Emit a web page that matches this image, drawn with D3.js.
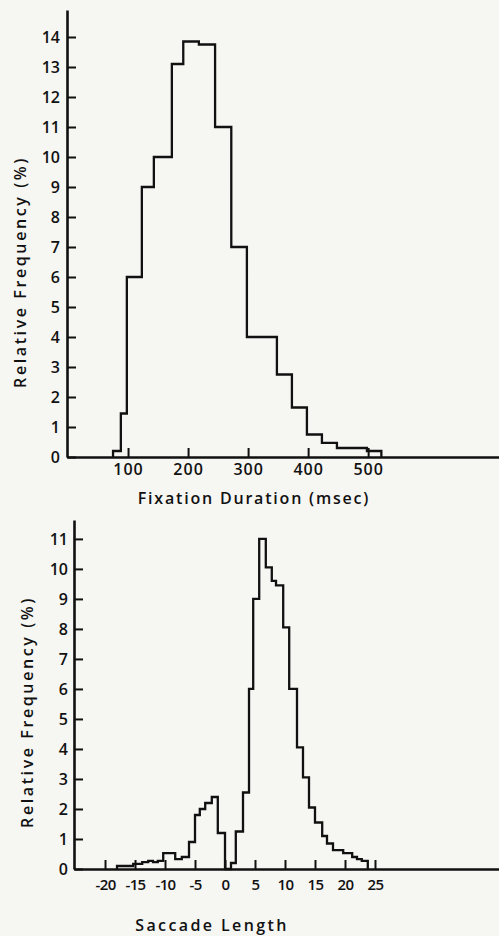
<!DOCTYPE html>
<html>
<head>
<meta charset="utf-8">
<script src="https://cdn.jsdelivr.net/npm/d3@7.9.0/dist/d3.min.js"></script>
<style>
  html, body { margin: 0; padding: 0; background: #f6f6f3; }
  svg { display: block; }
  text { font-family: "Open Sans", "DejaVu Sans", sans-serif; font-weight: 600; fill: #111; }
  .domain, .tick line { stroke: #111; }
</style>
</head>
<body>
<svg id="chart" width="499" height="936"></svg>
<script>
// Fixation duration histogram (msec, bin start -> relative frequency %)
const fixEdges = [75, 88, 98, 123, 143, 173, 192, 218, 245, 272, 298, 348, 373, 398, 423, 448, 498];
const fixFreq  = [0.2, 1.45, 6.0, 9.0, 10.0, 13.1, 13.85, 13.75, 11.0, 7.0, 4.0, 2.75, 1.65, 0.75, 0.47, 0.3, 0.2];
const fixEnd = 522;
const fixTicksX = [100, 200, 300, 400, 500];
const fixTicksY = d3.range(0, 15);

// Saccade length histogram (character spaces, bin start -> relative frequency %)
const sacEdges = [-18, -15.3, -13.8, -12.8, -12, -11.2, -10.3, -8.3, -7.2, -6, -5, -4.2, -3.3, -2.2, -1.2, 0,
                  1, 1.8, 3, 4, 4.7, 5.7, 6.8, 7.8, 8.5, 9.7, 10.7, 12, 13, 14, 15, 16.2, 17, 18, 19.7, 21.2, 22, 22.8];
const sacFreq  = [0.1, 0.17, 0.23, 0.27, 0.23, 0.27, 0.53, 0.33, 0.4, 0.9, 1.8, 2.0, 2.2, 2.4, 1.2, 0,
                  0.2, 1.25, 2.55, 6.0, 9.0, 11.0, 10.05, 9.6, 9.45, 8.05, 6.0, 4.05, 3.05, 2.05, 1.55, 1.1, 0.85, 0.63, 0.53, 0.4, 0.33, 0.27];
const sacEnd = 23.8;
const sacTicksX = [-20, -15, -10, -5, 0, 5, 10, 15, 20, 25];
const sacTicksY = d3.range(0, 12);

const svg = d3.select("#chart");

function drawPanel(opts) {
  const x = d3.scaleLinear().domain(opts.xDomain).range([opts.left, 499]);
  const y = d3.scaleLinear().domain(opts.yDomain).range([opts.bottom, opts.top]);
  const g = svg.append("g");

  // histogram outline
  const pts = [[opts.edges[0], 0]];
  opts.edges.forEach((e, i) => pts.push([e, opts.freq[i]]));
  pts.push([opts.end, 0]);
  g.append("path")
    .datum(pts)
    .attr("fill", "none")
    .attr("stroke", "#111")
    .attr("stroke-width", 2.3)
    .attr("stroke-linejoin", "miter")
    .attr("d", d3.line().x(d => x(d[0])).y(d => y(d[1])).curve(d3.curveStepAfter));

  const xAxis = g.append("g")
    .attr("transform", `translate(0,${opts.bottom})`)
    .call(d3.axisBottom(x).tickValues(opts.ticksX).tickSize(-9).tickSizeOuter(0)
      .tickPadding(opts.xPad).tickFormat(d => d));
  xAxis.select(".domain").attr("stroke-width", 2.6);
  xAxis.selectAll(".tick line").attr("stroke-width", 2);
  xAxis.selectAll("text").attr("font-size", opts.xFont).style("letter-spacing", opts.xSpacing);

  const yAxis = g.append("g")
    .attr("transform", `translate(${opts.left},0)`)
    .call(d3.axisLeft(y).tickValues(opts.ticksY).tickSize(-9).tickSizeOuter(0).tickPadding(opts.yPad));
  yAxis.select(".domain").attr("stroke-width", 2.6);
  yAxis.selectAll(".tick line").attr("stroke-width", 2);
  yAxis.selectAll("text").attr("font-size", 16);

  svg.append("text")
    .attr("transform", `translate(${opts.yTitleX},${opts.yTitleY}) rotate(-90)`)
    .attr("text-anchor", "middle")
    .attr("font-size", 16)
    .style("letter-spacing", "2.6px")
    .text("Relative  Frequency  (%)");

  svg.append("text")
    .attr("x", opts.xTitleX)
    .attr("y", opts.xTitleY)
    .attr("text-anchor", "middle")
    .attr("font-size", 16)
    .style("letter-spacing", opts.titleSpacing)
    .text(opts.xTitle);
}

drawPanel({
  edges: fixEdges, freq: fixFreq, end: fixEnd,
  xDomain: [-1.7, 718], yDomain: [0, 14.9],
  left: 67, top: 10, bottom: 457,
  ticksX: fixTicksX, ticksY: fixTicksY,
  xPad: 7, yPad: 7, xFont: 16, xSpacing: "1px",
  yTitleX: 26, yTitleY: 272,
  xTitle: "Fixation  Duration (msec)", xTitleX: 254, xTitleY: 504, titleSpacing: "1.8px"
});

drawPanel({
  edges: sacEdges, freq: sacFreq, end: sacEnd,
  xDomain: [-25.17, 45.67], yDomain: [0, 11.63],
  left: 74, top: 520, bottom: 869,
  ticksX: sacTicksX, ticksY: sacTicksY,
  xPad: 10, yPad: 6, xFont: 15, xSpacing: "-0.6px",
  yTitleX: 33, yTitleY: 712,
  xTitle: "Saccade  Length", xTitleX: 212, xTitleY: 931, titleSpacing: "2.4px"
});
</script>
</body>
</html>
